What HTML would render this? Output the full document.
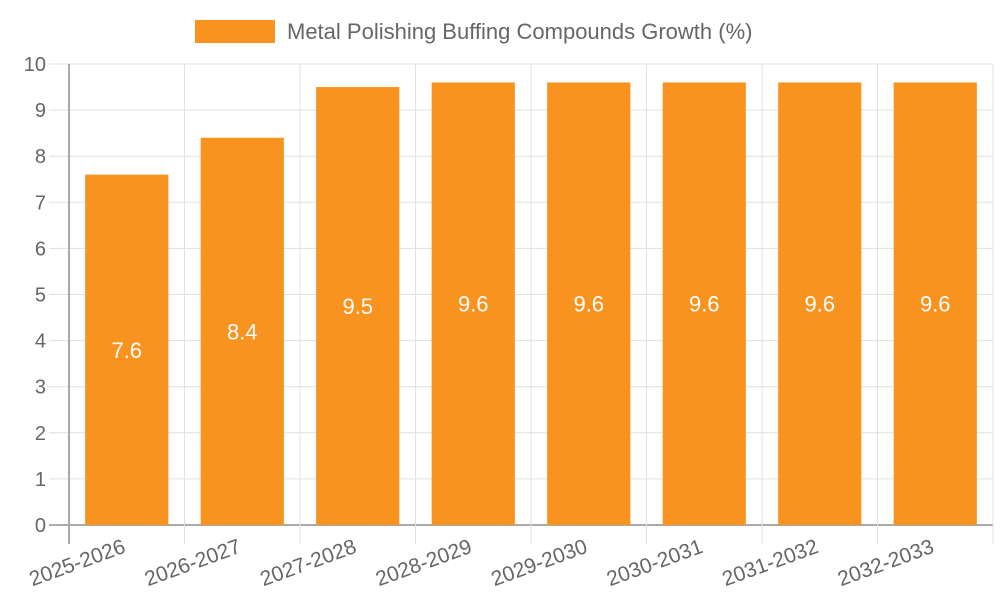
<!DOCTYPE html>
<html><head><meta charset="utf-8"><style>
body{margin:0;background:#fff;}
svg text{font-family:"Liberation Sans",sans-serif;}
</style></head><body>
<svg id="c" width="1000" height="600">
<g>
<rect x="195" y="20" width="80" height="23" fill="#f7931e"></rect>
<text x="287" y="39" font-size="22" fill="#666">Metal Polishing Buffing Compounds Growth (%)</text>
</g>
<g id="grid"></g><g id="bars"></g><g id="labels"></g>
</svg>
<script>
const categories=["2025-2026","2026-2027","2027-2028","2028-2029","2029-2030","2030-2031","2031-2032","2032-2033"];
const values=[7.6,8.4,9.5,9.6,9.6,9.6,9.6,9.6];
const yTicks=[0,1,2,3,4,5,6,7,8,9,10];
const NS="http://www.w3.org/2000/svg";
const L=69,R=993,T=64,B=525,yMax=10;
const y=v=>B-(B-T)*v/yMax;
const bw=(R-L)/categories.length;
const x=i=>L+bw*i;
function mk(t,a,p){const e=document.createElementNS(NS,t);for(const k in a)e.setAttribute(k,a[k]);p.appendChild(e);return e;}
const g=document.getElementById('grid'),bg=document.getElementById('bars'),lg=document.getElementById('labels');
yTicks.forEach(v=>{
 const ln=mk('line',{x1:49,x2:R,y1:y(v),y2:y(v),stroke:v===0?'#aaa':'#e0e0e0','stroke-width':v===0?2:1},g);
 
 
 const t=mk('text',{x:46,y:y(v)+7,'text-anchor':'end','font-size':20,fill:'#666'},g);
 t.textContent=v;
 
 
});
for(let i=0;i<=categories.length;i++){
 const ln=mk('line',{x1:x(i),x2:x(i),y1:T,y2:544,stroke:i===0?'#aaa':'#e0e0e0','stroke-width':i===0?2:1},g);
 
 
}
categories.forEach((c,i)=>{
 const cx=x(i)+bw/2,w=bw*0.72;
 const r=mk('rect',{x:cx-w/2,y:y(values[i]),width:w,height:B-y(values[i]),fill:'#f7931e'},bg);
 
 
 const t=mk('text',{x:cx,y:(y(values[i])+B)/2+8,'text-anchor':'middle','font-size':22,fill:'#fff'},lg);
 t.textContent=values[i];
 
 
 const xl=mk('text',{x:cx,y:552,'text-anchor':'end','font-size':21,fill:'#666',transform:`rotate(-20 ${cx} 552)`},lg);
 xl.textContent=c;
 
 
});
</script>
</body></html>
